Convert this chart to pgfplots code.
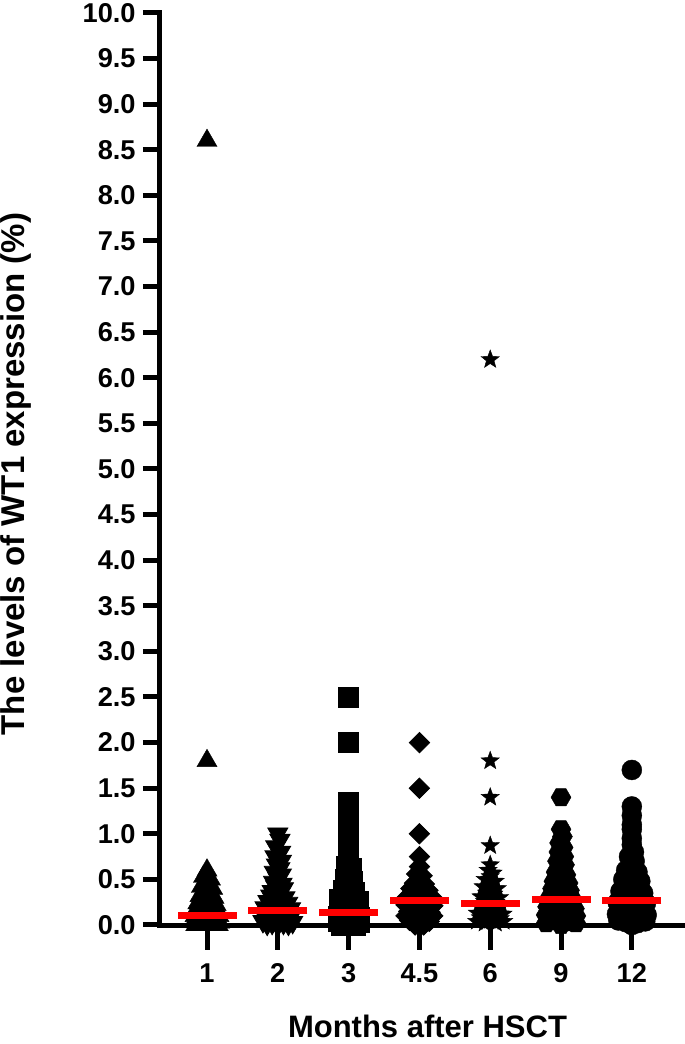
\documentclass[border=0pt]{standalone}
\usepackage{fontspec}
\setmainfont{Liberation Sans}
\usepackage{pgfplots}
\usepackage{pgfplotstable}
\pgfplotsset{compat=1.18}
\usetikzlibrary{plotmarks}

\pgfdeclareplotmark{hexa}{%
  \pgfpathmoveto{\pgfpointpolar{0}{\pgfplotmarksize}}%
  \pgfpathlineto{\pgfpointpolar{60}{\pgfplotmarksize}}%
  \pgfpathlineto{\pgfpointpolar{120}{\pgfplotmarksize}}%
  \pgfpathlineto{\pgfpointpolar{180}{\pgfplotmarksize}}%
  \pgfpathlineto{\pgfpointpolar{240}{\pgfplotmarksize}}%
  \pgfpathlineto{\pgfpointpolar{300}{\pgfplotmarksize}}%
  \pgfpathclose\pgfusepathqfillstroke}
\pgfdeclareplotmark{fstar}{%
  \pgfpathmoveto{\pgfpointpolar{90}{\pgfplotmarksize}}%
  \pgfpathlineto{\pgfpointpolar{126}{0.42\pgfplotmarksize}}%
  \pgfpathlineto{\pgfpointpolar{162}{\pgfplotmarksize}}%
  \pgfpathlineto{\pgfpointpolar{198}{0.42\pgfplotmarksize}}%
  \pgfpathlineto{\pgfpointpolar{234}{\pgfplotmarksize}}%
  \pgfpathlineto{\pgfpointpolar{270}{0.42\pgfplotmarksize}}%
  \pgfpathlineto{\pgfpointpolar{306}{\pgfplotmarksize}}%
  \pgfpathlineto{\pgfpointpolar{342}{0.42\pgfplotmarksize}}%
  \pgfpathlineto{\pgfpointpolar{18}{\pgfplotmarksize}}%
  \pgfpathlineto{\pgfpointpolar{54}{0.42\pgfplotmarksize}}%
  \pgfpathclose\pgfusepathqfillstroke}

% month 1 (triangles)
\pgfplotstableread{
dx y
0 8.60
0 1.80
0 0.60
-0.05 0.53
0.05 0.50
0 0.46
-0.08 0.42
0.08 0.40
-0.03 0.37
0.04 0.35
-0.10 0.32
0.10 0.30
0 0.29
-0.06 0.27
0.06 0.26
-0.13 0.24
0.13 0.22
0 0.22
-0.08 0.20
0.08 0.19
-0.15 0.17
0.15 0.16
0 0.15
-0.05 0.14
0.05 0.13
-0.11 0.12
0.11 0.11
-0.17 0.10
0.17 0.10
0 0.09
-0.07 0.08
0.07 0.07
-0.13 0.06
0.13 0.05
0 0.05
-0.18 0.04
0.18 0.03
-0.06 0.03
0.06 0.02
-0.12 0.01
0.12 0.01
0 0.00
-0.16 0.00
0.16 0.00
}\gA
% month 2 (inverted triangles)
\pgfplotstableread{
dx y
0 1.00
0.03 0.93
-0.03 0.86
0.04 0.80
-0.04 0.75
0.05 0.70
-0.02 0.66
0.03 0.62
-0.05 0.58
0.05 0.55
0 0.51
-0.06 0.47
0.06 0.45
-0.03 0.42
0.08 0.40
-0.08 0.37
0.02 0.35
-0.10 0.32
0.10 0.30
0 0.28
-0.14 0.26
0.14 0.24
-0.05 0.22
0.05 0.21
-0.18 0.19
0.18 0.18
0 0.16
-0.10 0.15
0.10 0.14
-0.20 0.12
0.20 0.11
0 0.10
-0.06 0.09
0.06 0.08
-0.14 0.07
0.14 0.06
0 0.05
-0.21 0.04
0.21 0.03
-0.08 0.02
0.08 0.02
-0.15 0.01
0.15 0.01
0 0.00
}\gB
% month 3 (squares)
\pgfplotstableread{
dx y
0 2.50
0 2.00
0 1.35
0 1.25
0 1.15
0 1.05
0 0.95
0 0.85
0 0.75
-0.04 0.65
0.04 0.62
0 0.55
-0.05 0.50
0.05 0.48
0 0.42
-0.08 0.38
0.08 0.36
0 0.30
-0.13 0.28
0.13 0.26
-0.05 0.22
0.05 0.20
-0.14 0.18
0.14 0.16
0 0.12
-0.15 0.10
0.15 0.09
-0.05 0.07
0.05 0.05
-0.15 0.04
0.15 0.03
0 0.02
-0.10 0.00
0.10 0.00
0 0.00
}\gC
% month 4.5 (diamonds)
\pgfplotstableread{
dx y
0 2.00
0 1.50
0 1.00
0 0.75
0 0.64
-0.04 0.56
0.04 0.54
0 0.50
-0.07 0.46
0.07 0.45
0 0.42
-0.12 0.40
0.12 0.38
0 0.36
-0.06 0.34
0.06 0.33
-0.18 0.30
0.18 0.30
0 0.28
-0.10 0.26
0.10 0.25
-0.19 0.22
0.19 0.21
0 0.20
-0.08 0.18
0.08 0.17
-0.15 0.15
0.15 0.14
0 0.12
-0.19 0.10
0.19 0.10
-0.06 0.08
0.06 0.07
-0.14 0.05
0.14 0.04
0 0.03
-0.06 0.00
0.06 0.00
}\gD
% month 6 (stars)
\pgfplotstableread{
dx y
0 6.20
0 1.80
0 1.40
0 0.87
0 0.66
-0.03 0.60
0.04 0.57
0 0.53
-0.07 0.50
0.07 0.48
0 0.45
-0.10 0.42
0.10 0.40
0 0.38
-0.05 0.35
0.05 0.34
-0.13 0.31
0.13 0.30
0 0.28
-0.08 0.26
0.08 0.25
-0.16 0.22
0.16 0.21
0 0.20
-0.10 0.18
0.10 0.17
0 0.15
-0.18 0.13
0.18 0.12
-0.06 0.10
0.06 0.10
-0.14 0.08
0.14 0.07
0 0.05
-0.19 0.04
0.19 0.04
-0.08 0.02
0.08 0.02
}\gE
% month 9 (hexagons)
\pgfplotstableread{
dx y
0 1.40
0 1.05
0.02 0.97
-0.02 0.90
0.03 0.85
-0.03 0.80
0.04 0.75
-0.05 0.70
0.05 0.66
0 0.62
-0.07 0.58
0.07 0.55
0 0.52
-0.10 0.48
0.10 0.46
0 0.43
-0.12 0.40
0.12 0.38
-0.04 0.35
0.04 0.33
-0.16 0.30
0.16 0.28
0 0.26
-0.10 0.24
0.10 0.22
-0.19 0.20
0.19 0.18
0 0.16
-0.12 0.14
0.12 0.13
-0.21 0.11
0.21 0.10
0 0.09
-0.15 0.07
0.15 0.06
-0.06 0.04
0.06 0.03
-0.21 0.02
0.21 0.02
0 0.00
}\gF
% month 12 (circles)
\pgfplotstableread{
dx y
0 1.70
0 1.30
0 1.20
0 1.10
0 1.05
0 0.95
0 0.88
0.03 0.80
-0.04 0.75
0.04 0.70
0 0.65
-0.08 0.60
0.08 0.58
0 0.55
-0.12 0.50
0.12 0.48
0 0.45
-0.06 0.42
0.06 0.40
-0.16 0.37
0.16 0.35
0 0.33
-0.10 0.30
0.10 0.28
-0.20 0.25
0.20 0.24
0 0.22
-0.14 0.20
0.14 0.18
-0.04 0.16
0.04 0.15
-0.21 0.12
0.21 0.11
-0.12 0.10
0.12 0.09
0 0.07
-0.19 0.05
0.19 0.04
-0.08 0.03
0.08 0.02
0 0.00
}\gG

\pgfplotsset{
  basestyle/.style={
    width=261.5pt, height=456pt, scale only axis,
    at={(0,0)}, anchor=origin,
    xmin=0.336, xmax=7.723, ymin=0, ymax=10,
    clip=false,
    axis line style={line width=2.5pt, line cap=rect, black},
    tick style={line width=2.5pt, black},
    tick align=outside,
    ticklabel style={font=\bfseries\fontsize{13.6}{15}\selectfont, inner sep=0pt},
    label style={font=\bfseries\fontsize{15.5}{18}\selectfont},
    /pgf/number format/assume math mode=true,
  },
  grp/.style={only marks, black, mark options={fill=black, draw=black, line width=0.2pt, solid}},
}

\begin{document}
\begin{tikzpicture}
\useasboundingbox (-80pt,-59.5pt) rectangle (262.5pt,462.5pt);
\begin{axis}[
  basestyle,
  hide x axis,
  axis y line*=left,
  major tick length=8.5pt,
  ytick={0,0.5,1,1.5,2,2.5,3,3.5,4,4.5,5,5.5,6,6.5,7,7.5,8,8.5,9,9.5,10},
  yticklabel style={/pgf/number format/fixed, /pgf/number format/fixed zerofill, /pgf/number format/precision=1, anchor=east, xshift=-3.5pt},
  ylabel={The levels of WT1 expression (\%)},
  ylabel style={at={(axis description cs:0,0.5)}, anchor=base, yshift=67.5pt, xshift=-2.5pt, font=\bfseries\fontsize{16.5}{18}\selectfont},
]
\addplot[grp, mark=triangle*, mark size=5.8pt] table[x expr=1+\thisrow{dx}, y=y] {\gA};
\addplot[grp, mark=triangle*, mark size=5.8pt, mark options={rotate=180}] table[x expr=2+\thisrow{dx}, y=y] {\gB};
\addplot[grp, mark=square*, mark size=5pt] table[x expr=3+\thisrow{dx}, y=y] {\gC};
\addplot[grp, mark=square*, mark size=3.6pt, mark options={rotate=45}] table[x expr=4+\thisrow{dx}, y=y] {\gD};
\addplot[grp, mark=fstar, mark size=4.8pt] table[x expr=5+\thisrow{dx}, y=y] {\gE};
\addplot[grp, mark=hexa, mark size=5pt] table[x expr=6+\thisrow{dx}, y=y] {\gF};
\addplot[grp, mark=*, mark size=5pt] table[x expr=7+\thisrow{dx}, y=y] {\gG};
% medians
\addplot[only marks, mark=-, mark size=14.75pt, mark options={draw=red, line width=3.6pt, line cap=butt}]
  coordinates {(1,0.10) (2,0.155) (3,0.14) (4,0.27) (5,0.24) (6,0.28) (7,0.27)};
\end{axis}
\begin{axis}[
  basestyle,
  hide y axis,
  axis x line*=bottom,
  major tick length=12.5pt,
  xtick={1,2,3,4,5,6,7},
  xticklabels={1,2,3,4.5,6,9,12},
  xticklabel style={anchor=north, yshift=-6.5pt},
  xlabel={Months after HSCT},
  xlabel style={at={(axis description cs:0.5,0)}, anchor=base, yshift=-56pt, xshift=3pt},
]
\addplot[draw=none, forget plot] coordinates {(1,0)};
\end{axis}
\end{tikzpicture}
\end{document}
